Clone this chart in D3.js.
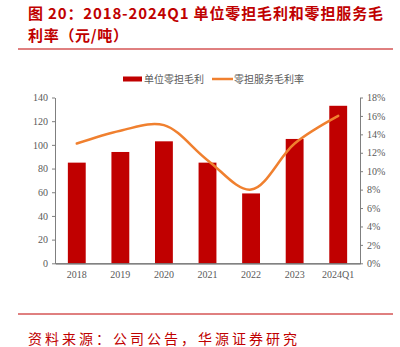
<!DOCTYPE html>
<html><head><meta charset="utf-8">
<script src="https://cdn.jsdelivr.net/npm/d3@7"></script>
<style>
html,body{margin:0;padding:0;background:#fff;}
svg{display:block;}
</style></head>
<body>
<svg id="chart" width="400" height="347"></svg>
<script>
const categories = ["2018","2019","2020","2021","2022","2023","2024Q1"];
const grossProfit = [85, 94, 103, 85, 59, 105, 133];
const marginRate = [13.0, 14.4, 15.0, 11.2, 8.0, 13.0, 16.0];
const leftTicks = [0,20,40,60,80,100,120,140];
const rightTicks = [0,2,4,6,8,10,12,14,16,18];
const titleLines = ["图 20：2018-2024Q1 单位零担毛利和零担服务毛","利率（元/吨）"];
const sourceText = "资料来源：公司公告，华源证券研究";
const legendLabels = ["单位零担毛利","零担服务毛利率"];

const svg = d3.select("#chart");
const red = "#c00000", orange = "#f0802f", gray = "#595959";
const cjk = "'Noto Sans CJK SC','Noto Sans',sans-serif";
const serif = "'Liberation Serif','DejaVu Serif',serif";

// title
const titleWidths = [355, 100];
svg.selectAll("text.title").data(titleLines).join("text")
  .attr("class","title")
  .attr("x",28).attr("y",(d,i)=>19+i*22)
  .attr("fill",red).attr("font-family",cjk).attr("font-weight","bold")
  .attr("font-size","15px")
  .attr("textLength",(d,i)=>titleWidths[i]).attr("lengthAdjust","spacing")
  .text(d=>d);
svg.append("line").attr("x1",18).attr("x2",393).attr("y1",49).attr("y2",49)
  .attr("stroke",red).attr("stroke-width",1);
svg.append("line").attr("x1",18).attr("x2",393).attr("y1",314).attr("y2",314)
  .attr("stroke",red).attr("stroke-width",1);
svg.append("text").attr("x",28).attr("y",344)
  .attr("fill",red).attr("font-family",cjk).attr("font-size","14px")
  .attr("textLength",269).attr("lengthAdjust","spacing").text(sourceText);

const x0 = 55, x1 = 360, yTop = 97.5, yBot = 263.3;
const x = d3.scaleBand().domain(categories).range([x0,x1]).paddingInner(0.59).paddingOuter(0.295);
const yL = d3.scaleLinear().domain([0,140]).range([yBot,yTop]);
const yR = d3.scaleLinear().domain([0,18]).range([yBot,yTop]);

// bars
svg.append("g").selectAll("rect").data(grossProfit).join("rect")
  .attr("x",(d,i)=>x(categories[i])).attr("width",x.bandwidth())
  .attr("y",d=>yL(d)).attr("height",d=>yBot-yL(d)).attr("fill",red);

// line
const line = d3.line()
  .x((d,i)=>x(categories[i])+x.bandwidth()/2)
  .y(d=>yR(d)).curve(d3.curveCatmullRom.alpha(0.5));
svg.append("path").datum(marginRate).attr("d",line)
  .attr("fill","none").attr("stroke",orange).attr("stroke-width",2.5).attr("stroke-linecap","round");

// axes
const axL = svg.append("g").attr("transform",`translate(${x0},0)`)
  .call(d3.axisLeft(yL).tickValues(leftTicks).tickSize(3).tickSizeOuter(0).tickPadding(4));
const axR = svg.append("g").attr("transform",`translate(${x1},0)`)
  .call(d3.axisRight(yR).tickValues(rightTicks).tickSize(3).tickSizeOuter(0).tickPadding(4).tickFormat(d=>d+"%"));
const axB = svg.append("g").attr("transform",`translate(0,${yBot})`)
  .call(d3.axisBottom(x).tickSize(0).tickPadding(8));
[axL,axR,axB].forEach(a=>{
  a.selectAll("path,line").attr("stroke","#7f7f7f");
  a.selectAll("text").attr("fill",gray).attr("font-family",serif).attr("font-size","10px");
});
axB.select("path").attr("stroke","#595959").attr("stroke-width",1.2);

// legend
const lg = svg.append("g");
lg.append("rect").attr("x",123).attr("y",76.5).attr("width",19).attr("height",5).attr("fill",red);
lg.append("text").attr("x",144).attr("y",82.5).attr("fill",gray).attr("font-family",cjk)
  .attr("font-size","10px").text(legendLabels[0]);
lg.append("line").attr("x1",212).attr("x2",233).attr("y1",79).attr("y2",79)
  .attr("stroke",orange).attr("stroke-width",2.5);
lg.append("text").attr("x",234).attr("y",82.5).attr("fill",gray).attr("font-family",cjk)
  .attr("font-size","10px").text(legendLabels[1]);
</script>
</body></html>
